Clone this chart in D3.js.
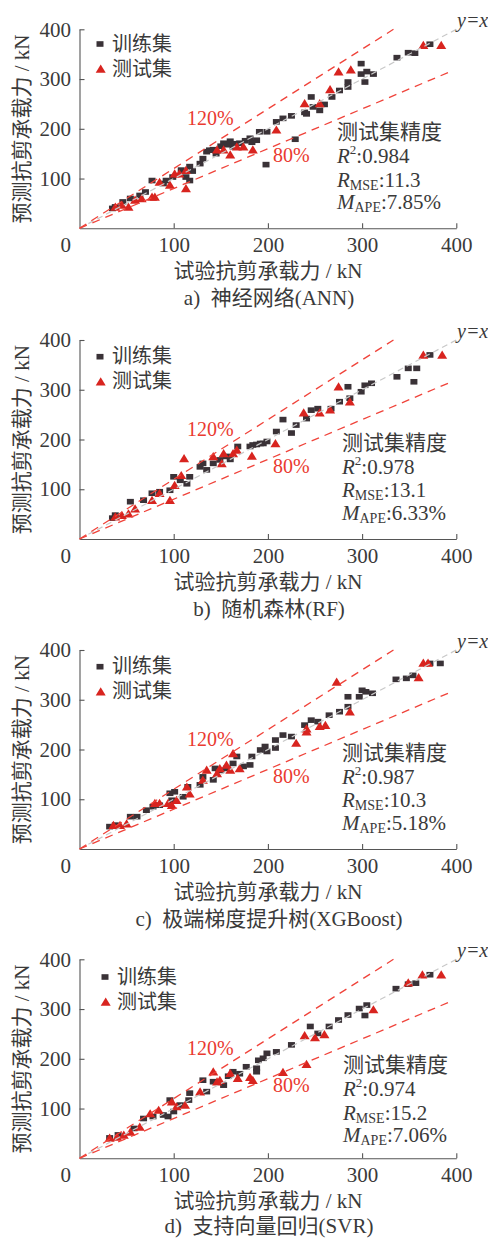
<!DOCTYPE html>
<html><head><meta charset="utf-8">
<script src="https://cdn.jsdelivr.net/npm/d3@7"></script>
<style>
html,body{margin:0;padding:0;background:#fff;}
svg text{font-family:"Liberation Serif","Noto Sans CJK SC",serif;}
</style></head>
<body>
<svg id="chart" width="488" height="1238"></svg>
<script>
const captions = ["a)\u2002神经网络(ANN)", "b)\u2002随机森林(RF)", "c)\u2002极端梯度提升树(XGBoost)", "d)\u2002支持向量回归(SVR)"];
const statR2 = ["0.984", "0.978", "0.987", "0.974"];
const statRMSE = ["11.3", "13.1", "10.3", "15.2"];
const statMAPE = ["7.85%", "6.33%", "5.18%", "7.06%"];
const tickValues = [100, 200, 300, 400];
const legendLabels = ["训练集", "测试集"];

const trainANN = [[35,40],[38,43],[46,53],[54,60],[64,66],[70,73],[77,96],[89,90],[92,96],[99,103],[108,117],[113,103],[117,124],[117,96],[120,115],[128,130],[131,140],[135,154],[138,157],[142,158],[145,150],[150,165],[153,171],[157,168],[160,175],[163,164],[165,170],[170,171],[176,176],[181,181],[183,173],[188,177],[191,194],[199,194],[198,128],[209,214],[216,221],[225,226],[229,179],[239,233],[241,230],[246,264],[248,244],[255,237],[260,249],[268,264],[276,277],[285,284],[285,294],[299,331],[299,310],[303,294],[305,315],[312,310],[337,343],[349,353],[356,352],[372,370]];
const testANN = [[38,43],[45,47],[52,43],[59,57],[66,60],[77,63],[80,63],[85,93],[96,87],[101,110],[106,110],[113,80],[113,117],[146,158],[153,158],[160,148],[167,164],[174,164],[184,158],[209,198],[239,251],[255,251],[266,279],[275,315],[288,319],[365,368],[384,368]];

const trainRF = [[35,42],[38,48],[54,75],[68,78],[77,92],[85,95],[96,98],[100,125],[107,118],[114,111],[117,125],[128,145],[131,152],[135,139],[142,152],[149,159],[156,166],[160,160],[168,186],[181,186],[184,189],[188,190],[192,192],[195,192],[199,196],[209,216],[216,240],[225,213],[230,229],[241,242],[246,259],[253,262],[267,262],[276,276],[285,306],[287,283],[299,296],[303,309],[310,313],[337,326],[349,343],[358,343],[355,316],[372,370]];
const testRF = [[38,45],[45,48],[52,51],[59,61],[77,78],[85,92],[96,78],[101,108],[108,128],[111,162],[142,166],[151,152],[153,172],[163,172],[167,179],[183,167],[208,192],[238,254],[255,254],[266,260],[275,306],[287,276],[365,370],[385,370]];

const trainXGB = [[32,45],[38,48],[54,65],[61,65],[71,78],[78,85],[85,88],[96,112],[101,115],[98,98],[110,105],[115,125],[128,129],[131,145],[142,139],[144,162],[150,158],[156,162],[163,172],[167,186],[174,166],[181,169],[183,186],[192,199],[197,206],[199,196],[208,203],[208,219],[216,229],[225,226],[239,249],[246,259],[253,256],[265,269],[276,276],[285,306],[285,286],[297,306],[300,319],[304,316],[311,313],[336,341],[347,343],[354,349],[372,373],[383,373]];
const testXGB = [[36,48],[43,48],[50,51],[80,92],[85,92],[94,92],[98,88],[103,98],[114,125],[117,111],[131,139],[135,159],[146,152],[149,162],[156,169],[160,159],[163,192],[170,162],[230,213],[241,242],[241,236],[255,247],[261,249],[273,336],[287,276],[360,345],[365,374],[370,374]];

const trainSVR = [[32,41],[41,47],[58,60],[68,80],[78,84],[89,87],[94,84],[96,117],[100,94],[107,107],[116,117],[117,131],[131,157],[135,134],[142,154],[153,147],[158,165],[163,174],[170,170],[177,184],[188,181],[188,174],[190,197],[195,201],[199,211],[209,214],[225,228],[245,265],[253,251],[265,265],[275,278],[285,288],[297,301],[303,287],[305,308],[336,341],[349,350],[357,352],[372,369]];
const testSVR = [[32,41],[40,43],[47,47],[54,53],[64,63],[75,90],[84,97],[98,114],[103,104],[112,107],[128,134],[142,174],[146,154],[149,157],[160,171],[168,161],[181,163],[184,157],[216,173],[241,189],[239,247],[250,243],[260,249],[312,299],[349,353],[364,369],[384,369]];

const trainSets = [trainANN, trainRF, trainXGB, trainSVR];
const testSets = [testANN, testRF, testXGB, testSVR];

// layout
const panelTop = [0, 310.7, 620.7, 930];
const captionDy = [0, 0, 0, -2];
const statsShift = [[0,0],[5,0],[5,0],[6,3]];
const legendShift = [[0,0],[0,2],[0,2],[5,3]];

const svg = d3.select("#chart");
const textColor = "#3a3a3a";
const axisColor = "#555";
const sqColor = "#3a3237";
const triColor = "#d8241f";
const redLine = "#f0433a";
const redText = "#ea3a30";

function triPath(cx, cy) {
  return `M${cx-5},${cy+3.8}L${cx+5},${cy+3.8}L${cx},${cy-4.4}Z`;
}

panelTop.forEach((oy, i) => {
  const g = svg.append("g");
  const x = d3.scaleLinear().domain([0, 400]).range([79.5, 456.3]);
  const y = d3.scaleLinear().domain([0, 400]).range([228.3 + oy, 29.3 + oy]);

  // axes
  const xAxis = d3.axisBottom(x).tickValues(tickValues).tickSizeInner(-5).tickSizeOuter(0).tickPadding(9);
  const yAxis = d3.axisLeft(y).tickValues(tickValues).tickSizeInner(-5).tickSizeOuter(0).tickPadding(8.5);
  const gx = g.append("g").attr("transform", `translate(0,${y(0)})`).call(xAxis);
  const gy = g.append("g").attr("transform", `translate(${x(0)},0)`).call(yAxis);
  [gx, gy].forEach(a => {
    a.select(".domain").attr("stroke", axisColor).attr("stroke-width", 1.1);
    a.selectAll(".tick line").attr("stroke", axisColor).attr("stroke-width", 1.1);
    a.selectAll(".tick text").attr("fill", textColor).attr("font-size", 21)
      .attr("font-family", "Liberation Serif");
  });
  g.append("text").attr("x", 71).attr("y", y(0) + 24).attr("text-anchor","end")
    .attr("font-size",21).attr("fill",textColor).text("0");

  // markers
  g.append("g").selectAll("rect").data(trainSets[i]).join("rect")
    .attr("x", d => x(d[0]) - 3.5).attr("y", d => y(d[1]) - 2.8)
    .attr("width", 7).attr("height", 5.6).attr("fill", sqColor);
  g.append("g").selectAll("path").data(testSets[i]).join("path")
    .attr("d", d => triPath(x(d[0]), y(d[1])))
    .attr("fill", triColor);

  // reference lines (drawn over the markers)
  const line = d3.line().x(d => x(d[0])).y(d => y(d[1]));
  g.append("path").attr("d", line([[0,0],[400,400]]))
    .attr("fill","none").attr("stroke","#c8c8c8").attr("stroke-width",1.2).attr("stroke-dasharray","6,4");
  g.append("path").attr("d", line([[0,0],[333.3,400]]))
    .attr("fill","none").attr("stroke",redLine).attr("stroke-width",1.3).attr("stroke-dasharray","8,6");
  g.append("path").attr("d", line([[0,0],[395,316]]))
    .attr("fill","none").attr("stroke",redLine).attr("stroke-width",1.3).attr("stroke-dasharray","8,6");

  // axis titles
  g.append("text").attr("x", 268).attr("y", 278 + oy).attr("text-anchor","middle")
    .attr("font-size",21).attr("fill",textColor).text("试验抗剪承载力 / kN");
  g.append("text").attr("transform", `translate(22,${129 + oy}) rotate(-90)`)
    .attr("text-anchor","middle").attr("dominant-baseline","central")
    .attr("font-size",21).attr("fill",textColor).text("预测抗剪承载力 / kN");
  g.append("text").attr("x", 269).attr("y", 305 + oy + captionDy[i]).attr("text-anchor","middle")
    .attr("font-size",21).attr("fill",textColor).text(captions[i]);

  // legend
  const [lx, ly] = legendShift[i];
  g.append("rect").attr("x", 96.5 + lx).attr("y", 41.2 + oy + ly).attr("width",7).attr("height",5.6).attr("fill",sqColor);
  g.append("path").attr("d", triPath(100.7 + lx, 69 + oy + ly)).attr("fill",triColor);
  g.append("text").attr("x", 112 + lx).attr("y", 43.5 + oy + ly).attr("dominant-baseline","central")
    .attr("font-size",20).attr("fill",textColor).text(legendLabels[0]);
  g.append("text").attr("x", 112 + lx).attr("y", 68.5 + oy + ly).attr("dominant-baseline","central")
    .attr("font-size",20).attr("fill",textColor).text(legendLabels[1]);

  // line labels
  g.append("text").attr("x", 457).attr("y", 27 + oy).attr("font-size",20).attr("font-style","italic")
    .attr("fill",textColor).text("y=x");
  g.append("text").attr("x", 187).attr("y", 125 + oy).attr("font-size",20).attr("fill",redText).text("120%");
  g.append("text").attr("x", 273).attr("y", 162 + oy).attr("font-size",20).attr("fill",redText).text("80%");

  // stats
  const [sx, sy] = statsShift[i];
  const bx = 337 + sx;
  g.append("text").attr("x", bx).attr("y", 139 + oy + sy).attr("font-size",21).attr("fill",textColor).text("测试集精度");
  const t1 = g.append("text").attr("x", bx).attr("y", 163 + oy + sy).attr("font-size",21).attr("fill",textColor);
  t1.append("tspan").attr("font-style","italic").text("R");
  t1.append("tspan").attr("font-size",13).attr("dy",-9).text("2");
  t1.append("tspan").attr("dy",9).text(":" + statR2[i]);
  const t2 = g.append("text").attr("x", bx).attr("y", 186.5 + oy + sy).attr("font-size",21).attr("fill",textColor);
  t2.append("tspan").attr("font-style","italic").text("R");
  t2.append("tspan").attr("font-size",14).attr("dy",3).text("MSE");
  t2.append("tspan").attr("dy",-3).text(":" + statRMSE[i]);
  const t3 = g.append("text").attr("x", bx).attr("y", 209 + oy + sy).attr("font-size",21).attr("fill",textColor);
  t3.append("tspan").attr("font-style","italic").text("M");
  t3.append("tspan").attr("font-size",14).attr("dy",3).text("APE");
  t3.append("tspan").attr("dy",-3).text(":" + statMAPE[i]);
});
</script>
</body></html>
